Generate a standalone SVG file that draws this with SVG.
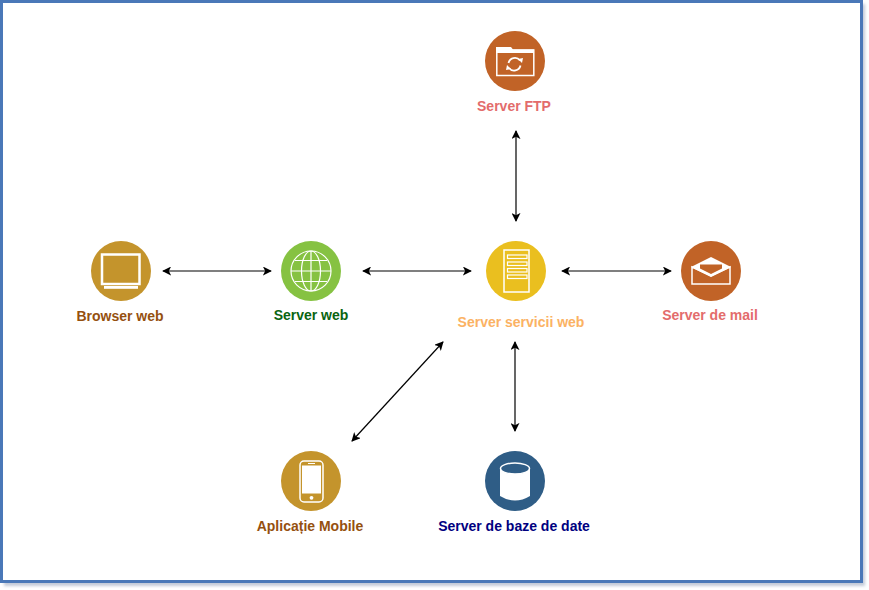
<svg xmlns="http://www.w3.org/2000/svg" width="869" height="590" viewBox="0 0 869 590">
<style>
.lb{font-family:"Liberation Sans",Arial,sans-serif;font-size:14px;font-weight:700;text-anchor:middle}
.w{fill:none;stroke:#fff;stroke-width:1.5}
.g{fill:none;stroke:#fff;stroke-width:1.2}
.c{fill:none;stroke:#000;stroke-width:1.2;marker-start:url(#a);marker-end:url(#a)}
</style>
<defs>
<marker id="a" viewBox="0 0 10 10" refX="9" refY="5" markerWidth="9" markerHeight="9" markerUnits="userSpaceOnUse" orient="auto-start-reverse"><path d="M0 0L10 5L0 10L2.500 5Z" fill="#000"/></marker>
<filter id="s" x="-2%" y="-2%" width="104%" height="104%"><feGaussianBlur stdDeviation="1.500"/></filter>
</defs>
<rect width="869" height="590" fill="#fff"/>
<g id="frame">
<rect x="4" y="4" width="861" height="582" fill="#c3cad8" filter="url(#s)"/>
<rect x="1.500" y="1.500" width="860" height="580" fill="#fff" stroke="#4a78b8" stroke-width="3"/>
</g>
<g id="connectors">
<path class="c" d="M163 271H271"/>
<path class="c" d="M363 271H471"/>
<path class="c" d="M562 271H671"/>
<path class="c" d="M516 131V221"/>
<path class="c" d="M515 342V431"/>
<path class="c" d="M352 441L443 342"/>
</g>
<g id="ftp">
<circle cx="515" cy="61" r="30" fill="#c16327"/>
<path d="M496 47H511L513 49.500H534V53H496Z" fill="#fff"/>
<rect x="496.800" y="50" width="37" height="25.500" class="w"/>
<path d="M520 60.500A6.500 6.500 0 0 0 508.500 63M509 68A6.500 6.500 0 0 0 520.500 65.500" fill="none" stroke="#fff" stroke-width="1.800"/>
<path d="M518 59L523 58L522 63ZM511 69L506 70L507 65Z" fill="#fff"/>
<text class="lb" x="514" y="111" fill="#e36c6c">Server FTP</text>
</g>
<g id="browser">
<circle cx="121" cy="271" r="30" fill="#c4942c"/>
<rect x="102" y="254.500" width="37.500" height="29.500" fill="none" stroke="#fff" stroke-width="2.500"/>
<rect x="104" y="286" width="34" height="2.800" fill="#fff"/>
<text class="lb" x="120" y="321" fill="#95500f">Browser web</text>
</g>
<g id="web">
<circle cx="311" cy="271" r="30" fill="#86c242"/>
<circle cx="311" cy="271" r="20" class="g"/>
<ellipse cx="311" cy="271" rx="9.500" ry="20" class="g"/>
<path class="g" d="M311 251V291M291 271H331M295 260.500H327M295 281.500H327"/>
<text class="lb" x="311" y="320" fill="#0a6410">Server web</text>
</g>
<g id="services">
<circle cx="516" cy="271" r="30" fill="#eabf1f"/>
<rect x="504" y="250" width="25" height="42" class="w"/>
<rect x="507.500" y="255" width="19.500" height="3.500" class="g"/>
<rect x="507.500" y="262" width="19.500" height="3.500" class="g"/>
<rect x="507.500" y="268.500" width="19.500" height="3.500" class="g"/>
<rect x="507.500" y="275" width="19.500" height="3.500" class="g"/>
<text class="lb" x="521" y="327" fill="#fbb263">Server servicii web</text>
</g>
<g id="mail">
<circle cx="711" cy="271" r="30" fill="#c16327"/>
<path d="M691 267L711 257L731 267L711 277Z" fill="#fff"/>
<path d="M700 264.500H722V268.500L711 274L700 268.500Z" fill="#c16327"/>
<path class="w" d="M692 267V284H730V267L711 276Z"/>
<text class="lb" x="710" y="320" fill="#e36c6c">Server de mail</text>
</g>
<g id="mobile">
<circle cx="311" cy="481" r="30" fill="#c4942c"/>
<rect x="300" y="461" width="23" height="41" rx="4" class="w"/>
<rect x="302" y="465.500" width="19" height="28" fill="#fff"/>
<path d="M308 463.500H315" stroke="#fff" stroke-width="1"/>
<circle cx="311.500" cy="497.800" r="1.900" fill="#fff"/>
<text class="lb" x="310" y="531" fill="#95500f">Aplicație Mobile</text>
</g>
<g id="db">
<circle cx="515" cy="481" r="30" fill="#2f5d86"/>
<path d="M500 469V496Q515 505 530 496V469Z" fill="#fff"/>
<ellipse cx="515" cy="468.500" rx="14.500" ry="5.500" fill="#2f5d86" stroke="#fff" stroke-width="1.500"/>
<text class="lb" x="514" y="531" fill="#00007f">Server de baze de date</text>
</g>
</svg>
